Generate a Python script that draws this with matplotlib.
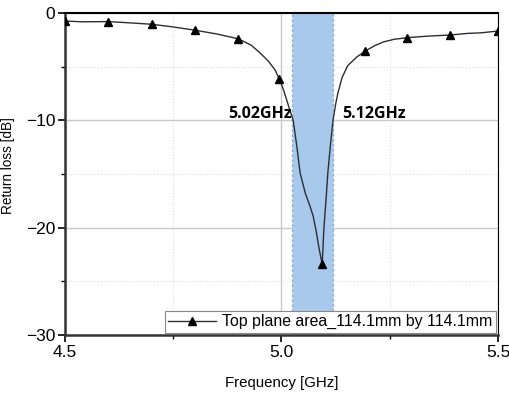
import matplotlib
matplotlib.use("Agg")
import matplotlib.pyplot as plt
from matplotlib.ticker import MultipleLocator

freq = [4.50, 4.54, 4.60, 4.65, 4.70, 4.75, 4.80, 4.85, 4.90, 4.93, 4.95, 4.97,
        4.985, 4.995, 5.005, 5.015, 5.027, 5.035, 5.043, 5.055, 5.065, 5.073,
        5.08, 5.087, 5.094, 5.098, 5.103, 5.107, 5.113, 5.119, 5.125, 5.13,
        5.14, 5.153, 5.174, 5.193, 5.215, 5.235, 5.26, 5.29, 5.34, 5.39,
        5.43, 5.46, 5.50]
rl = [-0.75, -0.82, -0.8, -0.92, -1.05, -1.3, -1.6, -1.95, -2.4, -3.0, -3.7, -4.5,
      -5.3, -6.15, -7.2, -8.5, -10.0, -12.3, -14.9, -16.8, -17.9, -18.9,
      -20.3, -22.0, -23.4, -20.0, -17.3, -14.9, -12.3, -10.0, -8.5, -7.5,
      -6.0, -4.9, -4.1, -3.55, -3.05, -2.7, -2.45, -2.3, -2.15, -2.05,
      -1.9, -1.85, -1.68]
marker_freq = [4.50, 4.60, 4.70, 4.80, 4.90, 4.995, 5.094, 5.193, 5.29, 5.39, 5.50]

band_lo, band_hi = 5.025, 5.12
band_labels = ["5.02GHz", "5.12GHz"]
legend_label = "Top plane area_114.1mm by 114.1mm"

plt.rcParams["font.family"] = ["Liberation Sans", "DejaVu Sans"]

fig = plt.figure(figsize=(5.1, 3.94), dpi=100)
ax = fig.add_axes([65 / 510, 1 - 335 / 394, 433 / 510, 322 / 394])

ax.axvspan(band_lo, band_hi, facecolor="#a9c9ec", edgecolor="#8fa9c8",
           linestyle=(0, (2, 2)), linewidth=0.9, zorder=1)

marks = [freq.index(f) for f in marker_freq]
ax.plot(freq, rl, color="#2a2f36", linewidth=1.0, marker="^", markersize=6,
        markerfacecolor="black", markeredgecolor="black", markevery=marks,
        label=legend_label, zorder=3)

ax.set_xlim(4.5, 5.5)
ax.set_ylim(-30, 0)
ax.xaxis.set_major_locator(MultipleLocator(0.5))
ax.xaxis.set_minor_locator(MultipleLocator(0.25))
ax.yaxis.set_major_locator(MultipleLocator(10))
ax.yaxis.set_minor_locator(MultipleLocator(5))
ax.xaxis.set_major_formatter(plt.FormatStrFormatter("%.1f"))

ax.grid(which="major", color="#c8c8c8", linewidth=1.0, zorder=0)
ax.grid(which="minor", color="#dddddd", linewidth=0.8, linestyle=":", zorder=0)
ax.set_axisbelow(True)

ax.tick_params(which="major", direction="out", length=5, width=1.2, labelsize=12.5,
               pad=2)
ax.tick_params(which="minor", direction="out", length=3, width=1.0)
for side in ["left", "bottom"]:
    ax.spines[side].set_linewidth(1.8)
    ax.spines[side].set_color("#333333")
ax.spines["top"].set_linewidth(1.5)
ax.spines["right"].set_linewidth(0.8)

ax.set_xlabel("Frequency [GHz]", fontsize=10.8, labelpad=12)
ax.set_ylabel("Return loss [dB]", fontsize=9.8)
ax.yaxis.set_label_coords(-50 / 433, 0.525)

ax.text(band_lo - 0.002, -10.15, band_labels[0], ha="right", va="bottom",
        fontsize=11.5, fontweight="bold", family=["Open Sans", "DejaVu Sans"])
ax.text(band_hi + 0.02, -10.15, band_labels[1], ha="left", va="bottom",
        fontsize=11.5, fontweight="bold", family=["Open Sans", "DejaVu Sans"])

leg = ax.legend(loc="lower right", fontsize=11.4, frameon=True, fancybox=False,
                borderpad=0.2, handlelength=3.0, handletextpad=0.4,
                borderaxespad=0.15, edgecolor="#888888", framealpha=1)
leg.get_frame().set_linewidth(0.8)

fig.savefig("out.png", dpi=100)
